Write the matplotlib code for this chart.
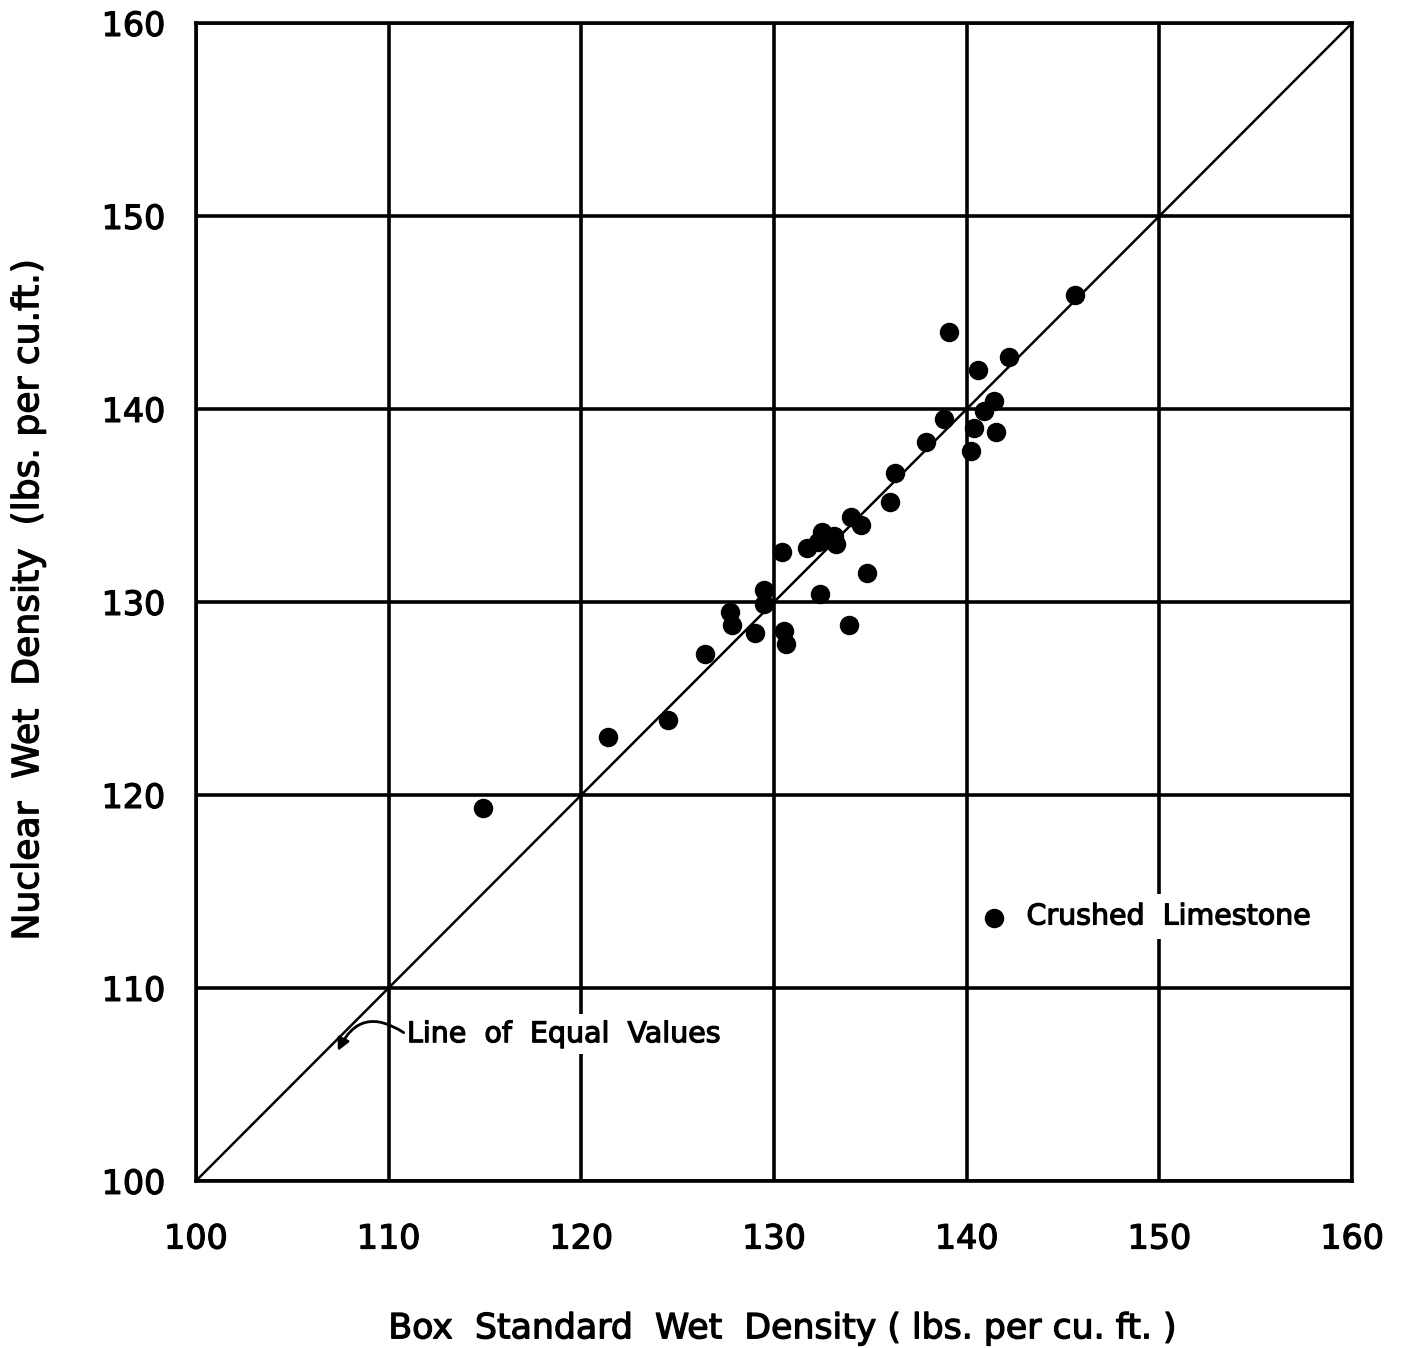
import numpy as np
import matplotlib
matplotlib.use("Agg")
import matplotlib.pyplot as plt
import matplotlib.patheffects as pe

# Box standard wet density (x) vs nuclear wet density (y), crushed limestone
box_density = [114.9, 121.4, 124.5, 126.4, 127.7, 127.8, 129.0, 129.5, 129.5,
               130.4, 130.5, 130.6, 131.7, 132.3, 132.5, 133.1, 133.2, 132.4,
               133.9, 134.0, 134.5, 134.8, 136.0, 136.3, 137.9, 138.8, 139.1,
               140.2, 140.4, 140.6, 140.9, 141.4, 141.5, 142.2, 145.6]
nuclear_density = [119.3, 123.0, 123.9, 127.3, 129.5, 128.8, 128.4, 130.6, 129.9,
                   132.6, 128.5, 127.8, 132.8, 133.1, 133.6, 133.4, 133.0, 130.4,
                   128.8, 134.4, 134.0, 131.5, 135.2, 136.7, 138.3, 139.5, 144.0,
                   137.8, 139.0, 142.0, 139.9, 140.4, 138.8, 142.7, 145.9]
ticks = [100, 110, 120, 130, 140, 150, 160]
equal_line = [100, 160]

heavy = [pe.withStroke(linewidth=0.9, foreground='black')]

fig = plt.figure(figsize=(14.1, 13.48), dpi=100)
ax = fig.add_axes([0.139, 0.124, 0.820, 0.859])

ax.set_xlim(100, 160)
ax.set_ylim(100, 160)
ax.set_xticks(ticks)
ax.set_yticks(ticks)
ax.set_xticklabels([str(t) for t in ticks], fontsize=24)
ax.set_yticklabels([str(t) for t in ticks], fontsize=24)
ax.tick_params(length=0)
ax.tick_params(axis='y', pad=22)
ax.tick_params(axis='x', pad=30)
for lab in ax.get_xticklabels() + ax.get_yticklabels():
    lab.set_path_effects(heavy)

ax.grid(True, color='black', linewidth=2.6)
ax.set_axisbelow(True)
for s in ax.spines.values():
    s.set_linewidth(2.6)

ax.plot(equal_line, equal_line, color='black', linewidth=1.8, zorder=2)
ax.plot(box_density, nuclear_density, 'o', color='black', markersize=13, zorder=3)

# legend-like label
ax.plot([141.4], [113.6], 'o', color='black', markersize=13, zorder=3)
ax.text(143.1, 113.7, 'Crushed  Limestone', fontsize=20.5, va='center', ha='left',
        bbox=dict(facecolor='white', edgecolor='none', pad=6), zorder=4,
        path_effects=heavy)

ax.text(110.95, 107.6, 'Line  of  Equal  Values', fontsize=20.5, va='center', ha='left',
        bbox=dict(facecolor='white', edgecolor='none', pad=4), zorder=4,
        path_effects=heavy)
ax.annotate('', xy=(107.3, 106.6), xytext=(110.9, 107.6),
            arrowprops=dict(arrowstyle='-|>', color='black', lw=2,
                            connectionstyle='arc3,rad=0.6', mutation_scale=18),
            zorder=5)

fig.text(0.555, 0.002, 'Box  Standard  Wet  Density ( lbs. per cu. ft. )',
         fontsize=25, ha='center', va='bottom', path_effects=heavy)
fig.text(0.02, 0.555, 'Nuclear  Wet  Density  (lbs. per cu.ft.)',
         fontsize=26, ha='center', va='center', rotation=90, path_effects=heavy)

fig.savefig('out.png', dpi=100)
